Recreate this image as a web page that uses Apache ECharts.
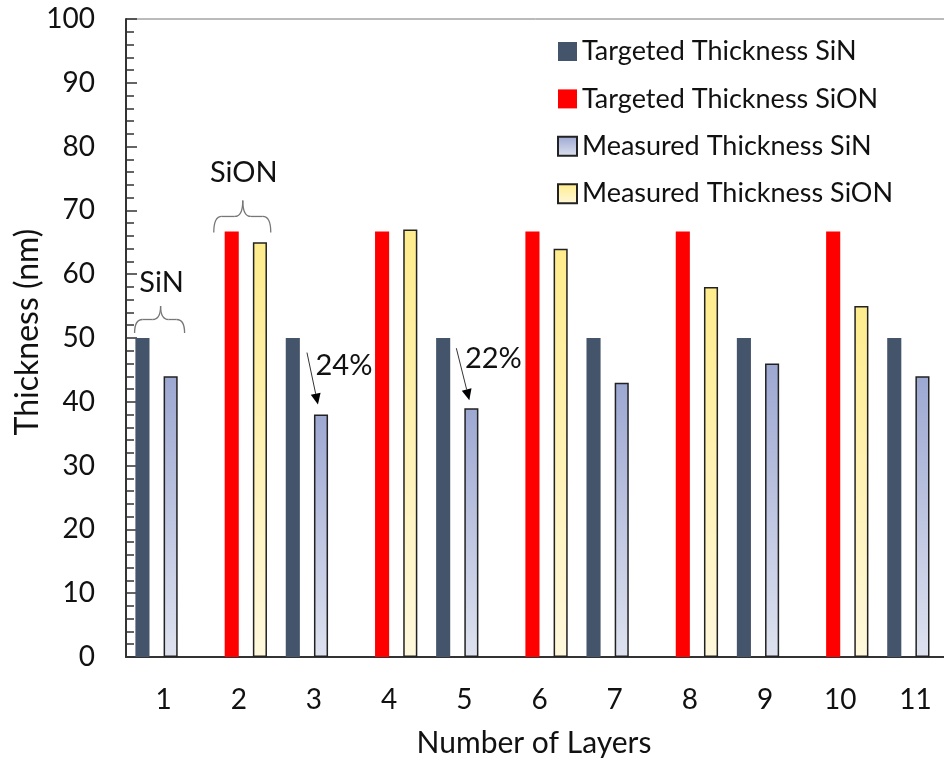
<!DOCTYPE html>
<html>
<head>
    <meta charset="utf-8" />
    <title>Thickness</title>
    <script src="https://cdn.jsdelivr.net/npm/echarts@6/dist/echarts.min.js"></script>
    <style>
        html, body { margin: 0; padding: 0; background: #fff; }
    </style>
</head>
<body>
    <div id="main" style="width: 944px;height: 762px;"></div>
    <script type="text/javascript">
        // data
        var layers = ['1', '2', '3', '4', '5', '6', '7', '8', '9', '10', '11'];
        var targetSiN = [50, '-', 50, '-', 50, '-', 50, '-', 50, '-', 50];
        var targetSiON = ['-', 66.7, '-', 66.7, '-', 66.7, '-', 66.7, '-', 66.7, '-'];
        var measuredSiN = [44, '-', 38, '-', 39, '-', 43, '-', 46, '-', 44];
        var measuredSiON = ['-', 65, '-', 67, '-', 64, '-', 58, '-', 55, '-'];

        var FONT = 'Lato';
        var myChart = echarts.init(document.getElementById('main'));

        var option = {
            animation: false,
            textStyle: { fontFamily: FONT, color: '#111' },
            grid: {
                left: 126, right: -9, top: 19, bottom: 105,
                outerBoundsMode: 'none',
                containLabel: false,
                show: true, borderColor: '#777', borderWidth: 1
            },
            legend: {
                orient: 'vertical',
                left: 557, top: 38,
                padding: 0,
                itemWidth: 19, itemHeight: 19, itemGap: 20.4,
                icon: 'rect',
                textStyle: { fontFamily: FONT, fontSize: 27, color: '#111', lineHeight: 27 },
                data: ['Targeted Thickness SiN', 'Targeted Thickness SiON', 'Measured Thickness SiN', 'Measured Thickness SiON']
            },
            xAxis: [
                {
                    type: 'category',
                    data: layers,
                    name: 'Number of Layers',
                    nameLocation: 'middle',
                    nameGap: 71,
                    nameMoveOverlap: false,
                    nameTextStyle: { fontFamily: FONT, fontSize: 30, color: '#111', padding: [0, 11, 0, 0] },
                    axisLine: { lineStyle: { color: '#333', width: 2 } },
                    axisTick: { inside: true, length: 10, lineStyle: { color: '#333', width: 1.5 } },
                    axisLabel: { fontSize: 28, color: '#111', margin: 29 }
                },
                {
                    // extra ticks at the category centres
                    type: 'category',
                    data: layers,
                    position: 'bottom',
                    axisLine: { show: false },
                    axisLabel: { show: false },
                    axisTick: { inside: true, length: 10, alignWithLabel: true, lineStyle: { color: '#333', width: 1.5 } }
                }
            ],
            yAxis: {
                type: 'value',
                min: 0, max: 100, interval: 10,
                name: 'Thickness (nm)',
                nameLocation: 'middle',
                nameGap: 82,
                nameMoveOverlap: false,
                nameTextStyle: { fontFamily: FONT, fontSize: 32, color: '#111', padding: [0, 0, 0, 12] },
                axisLine: { show: true, lineStyle: { color: '#333', width: 2 } },
                axisTick: { show: true, inside: true, length: 11, lineStyle: { color: '#333', width: 1.5 } },
                minorTick: { show: true, splitNumber: 5, length: 8, lineStyle: { color: '#333', width: 1.5 } },
                splitLine: { show: false },
                axisLabel: { fontSize: 28, color: '#111', margin: 31 }
            },
            series: [
                {
                    name: 'Targeted Thickness SiN',
                    type: 'bar',
                    data: targetSiN,
                    barGap: '0%',
                    barCategoryGap: '25%',
                    itemStyle: { color: '#44546A' }
                },
                {
                    name: 'Targeted Thickness SiON',
                    type: 'bar',
                    data: targetSiON,
                    itemStyle: { color: '#FF0000' }
                },
                {
                    name: 'Measured Thickness SiN',
                    type: 'bar',
                    data: measuredSiN,
                    itemStyle: {
                        borderColor: '#222',
                        borderWidth: 1.5,
                        color: new echarts.graphic.LinearGradient(0, 0, 0, 1, [
                            { offset: 0, color: '#9DA8D2' },
                            { offset: 1, color: '#DEE2EF' }
                        ])
                    }
                },
                {
                    name: 'Measured Thickness SiON',
                    type: 'bar',
                    data: measuredSiON,
                    itemStyle: {
                        borderColor: '#222',
                        borderWidth: 1.5,
                        color: new echarts.graphic.LinearGradient(0, 0, 0, 1, [
                            { offset: 0, color: '#FFEC8C' },
                            { offset: 1, color: '#FFF8DC' }
                        ])
                    }
                }
            ]
        };

        myChart.setOption(option);

        // annotations placed relative to the bars
        function px(cat, val) {
            return myChart.convertToPixel({ xAxisIndex: 0, yAxisIndex: 0 }, [cat, val]);
        }

        var braceStyle = { fill: null, stroke: '#777', lineWidth: 1.3 };

        function curve(xa, ya, cx, cy, xb, yb) {
            return {
                type: 'bezierCurve',
                shape: { x1: xa, y1: ya, x2: xb, y2: yb, cpx1: cx, cpy1: cy },
                style: braceStyle
            };
        }

        function seg(xa, ya, xb, yb) {
            return { type: 'line', shape: { x1: xa, y1: ya, x2: xb, y2: yb }, style: braceStyle };
        }

        // curly brace: ends at (x0,yb) and (x1,yb), tip at (xt,yt)
        function brace(x0, x1, xt, yb, yt) {
            var ym = (yb + yt) / 2, r = 8;
            return [
                curve(x0, yb, x0, ym, x0 + r, ym),
                seg(x0 + r, ym, xt - r, ym),
                curve(xt - r, ym, xt, ym, xt, yt),
                curve(xt, yt, xt, ym, xt + r, ym),
                seg(xt + r, ym, x1 - r, ym),
                curve(x1 - r, ym, x1, ym, x1, yb)
            ];
        }

        function arrow(x0, y0, x1, y1) {
            var dx = x1 - x0, dy = y1 - y0;
            var len = Math.sqrt(dx * dx + dy * dy);
            var ux = dx / len, uy = dy / len;
            var hl = 11, hw = 5;
            var bx = x1 - ux * hl, by = y1 - uy * hl;
            return [
                {
                    type: 'line',
                    shape: { x1: x0, y1: y0, x2: bx, y2: by },
                    style: { stroke: '#333', lineWidth: 1 }
                },
                {
                    type: 'polygon',
                    shape: { points: [[x1, y1], [bx - uy * hw, by + ux * hw], [bx + uy * hw, by - ux * hw]] },
                    style: { fill: '#000' }
                }
            ];
        }

        function label(text, x, y) {
            return {
                type: 'text',
                x: x, y: y,
                style: { text: text, fill: '#111', font: '29px ' + FONT, align: 'center', verticalAlign: 'middle' }
            };
        }

        var p1 = px('1', 50);
        var p2 = px('2', 66.7);
        var p3 = px('3', 38);
        var p5 = px('5', 39);

        var els = [];
        els = els.concat(brace(p1[0] - 29, p1[0] + 21, p1[0] - 3, p1[1] - 5, p1[1] - 32));
        els.push(label('SiN', p1[0] - 2, p1[1] - 55));
        els = els.concat(brace(p2[0] - 25, p2[0] + 32, p2[0] + 4, p2[1] + 1, p2[1] - 31));
        els.push(label('SiON', p2[0] + 5, p2[1] - 59));
        els = els.concat(arrow(p3[0] - 7, p3[1] - 62, p3[0] + 4, p3[1] - 10));
        els.push(label('24%', p3[0] + 30, p3[1] - 49));
        els = els.concat(arrow(p5[0] - 8, p5[1] - 60, p5[0] + 5, p5[1] - 8));
        els.push(label('22%', p5[0] + 29, p5[1] - 50));

        myChart.setOption({ graphic: { elements: els } });
    </script>
</body>
</html>
